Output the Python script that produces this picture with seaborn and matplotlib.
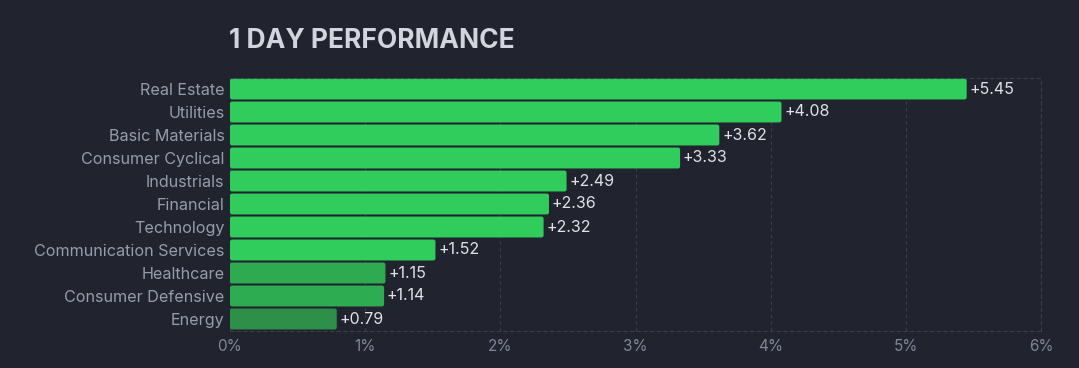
import matplotlib
matplotlib.use("Agg")
import matplotlib.pyplot as plt
from matplotlib.patches import FancyBboxPatch
import seaborn as sns
import pandas as pd

categories = ["Real Estate", "Utilities", "Basic Materials", "Consumer Cyclical",
              "Industrials", "Financial", "Technology", "Communication Services",
              "Healthcare", "Consumer Defensive", "Energy"]
values = [5.45, 4.08, 3.62, 3.33, 2.49, 2.36, 2.32, 1.52, 1.15, 1.14, 0.79]
bar_colors = ["#30cd5c"] * 8 + ["#2eab51", "#2eac52", "#2e8f49"]
xticks = [0, 1, 2, 3, 4, 5, 6]
title = "1 DAY PERFORMANCE"

BG = "#21242e"
sns.set_theme(style="dark")
plt.rcParams['font.family'] = ['Inter', 'DejaVu Sans']

df = pd.DataFrame({"sector": categories, "value": values})

fig = plt.figure(figsize=(10.79, 3.68), dpi=100)
fig.patch.set_facecolor(BG)
top_px, bot_px = 77.5, 330.5
ax = fig.add_axes([230/1079, 1-bot_px/368, (1041-230)/1079, (bot_px-top_px)/368])
ax.set_facecolor(BG)

sns.barplot(data=df, y="sector", x="value", hue="sector", palette=bar_colors,
            legend=False, width=0.91, ax=ax, saturation=1, linewidth=0)

# rounded bar corners
px_per_x = (1041-230) / 6
px_per_y = (bot_px - top_px) / 11
for p in list(ax.patches):
    x0, y0 = p.get_x(), p.get_y()
    w, h = p.get_width(), p.get_height()
    fb = FancyBboxPatch((x0, y0), w, h,
                        boxstyle="round,pad=0,rounding_size=%f" % (2.2/px_per_x),
                        mutation_aspect=px_per_x/px_per_y,
                        facecolor=p.get_facecolor(), edgecolor="none", zorder=p.get_zorder())
    p.remove()
    ax.add_patch(fb)

ax.set_xlim(0, 6)
ax.set_ylim(10.5, -0.5)
ax.set_xticks(xticks)
ax.set_xticklabels([f"{t}%" for t in xticks])
ax.set_xlabel("")
ax.set_ylabel("")
ax.tick_params(axis="x", labelsize=11, length=0, pad=6)
ax.tick_params(axis="y", labelsize=11.6, length=0, pad=4)
for lab in ax.get_yticklabels():
    lab.set_color("#969cad")
for lab in ax.get_xticklabels():
    lab.set_color("#80869a")

ax.grid(axis="x", color="#3a3e4a", linestyle=(0, (3, 3)), linewidth=0.8)
ax.grid(axis="y", visible=False)
ax.set_axisbelow(True)
for side in ["top", "bottom", "right"]:
    ax.spines[side].set_visible(True)
    ax.spines[side].set_color("#3a3e4a")
    ax.spines[side].set_linestyle((0, (3, 3)))
    ax.spines[side].set_linewidth(0.8)
ax.spines["left"].set_visible(False)

for i, v in enumerate(values):
    ax.text(v + 0.02, i, f"+{v:.2f}", va="center", ha="left",
            color="#dfe1e7", fontsize=11.5)

fig.text(229/1079, 1-47.5/368, title, ha="left", va="baseline",
         color="#d3d5de", fontsize=19, fontweight="bold")

fig.savefig("out.png", dpi=100, facecolor=BG)
